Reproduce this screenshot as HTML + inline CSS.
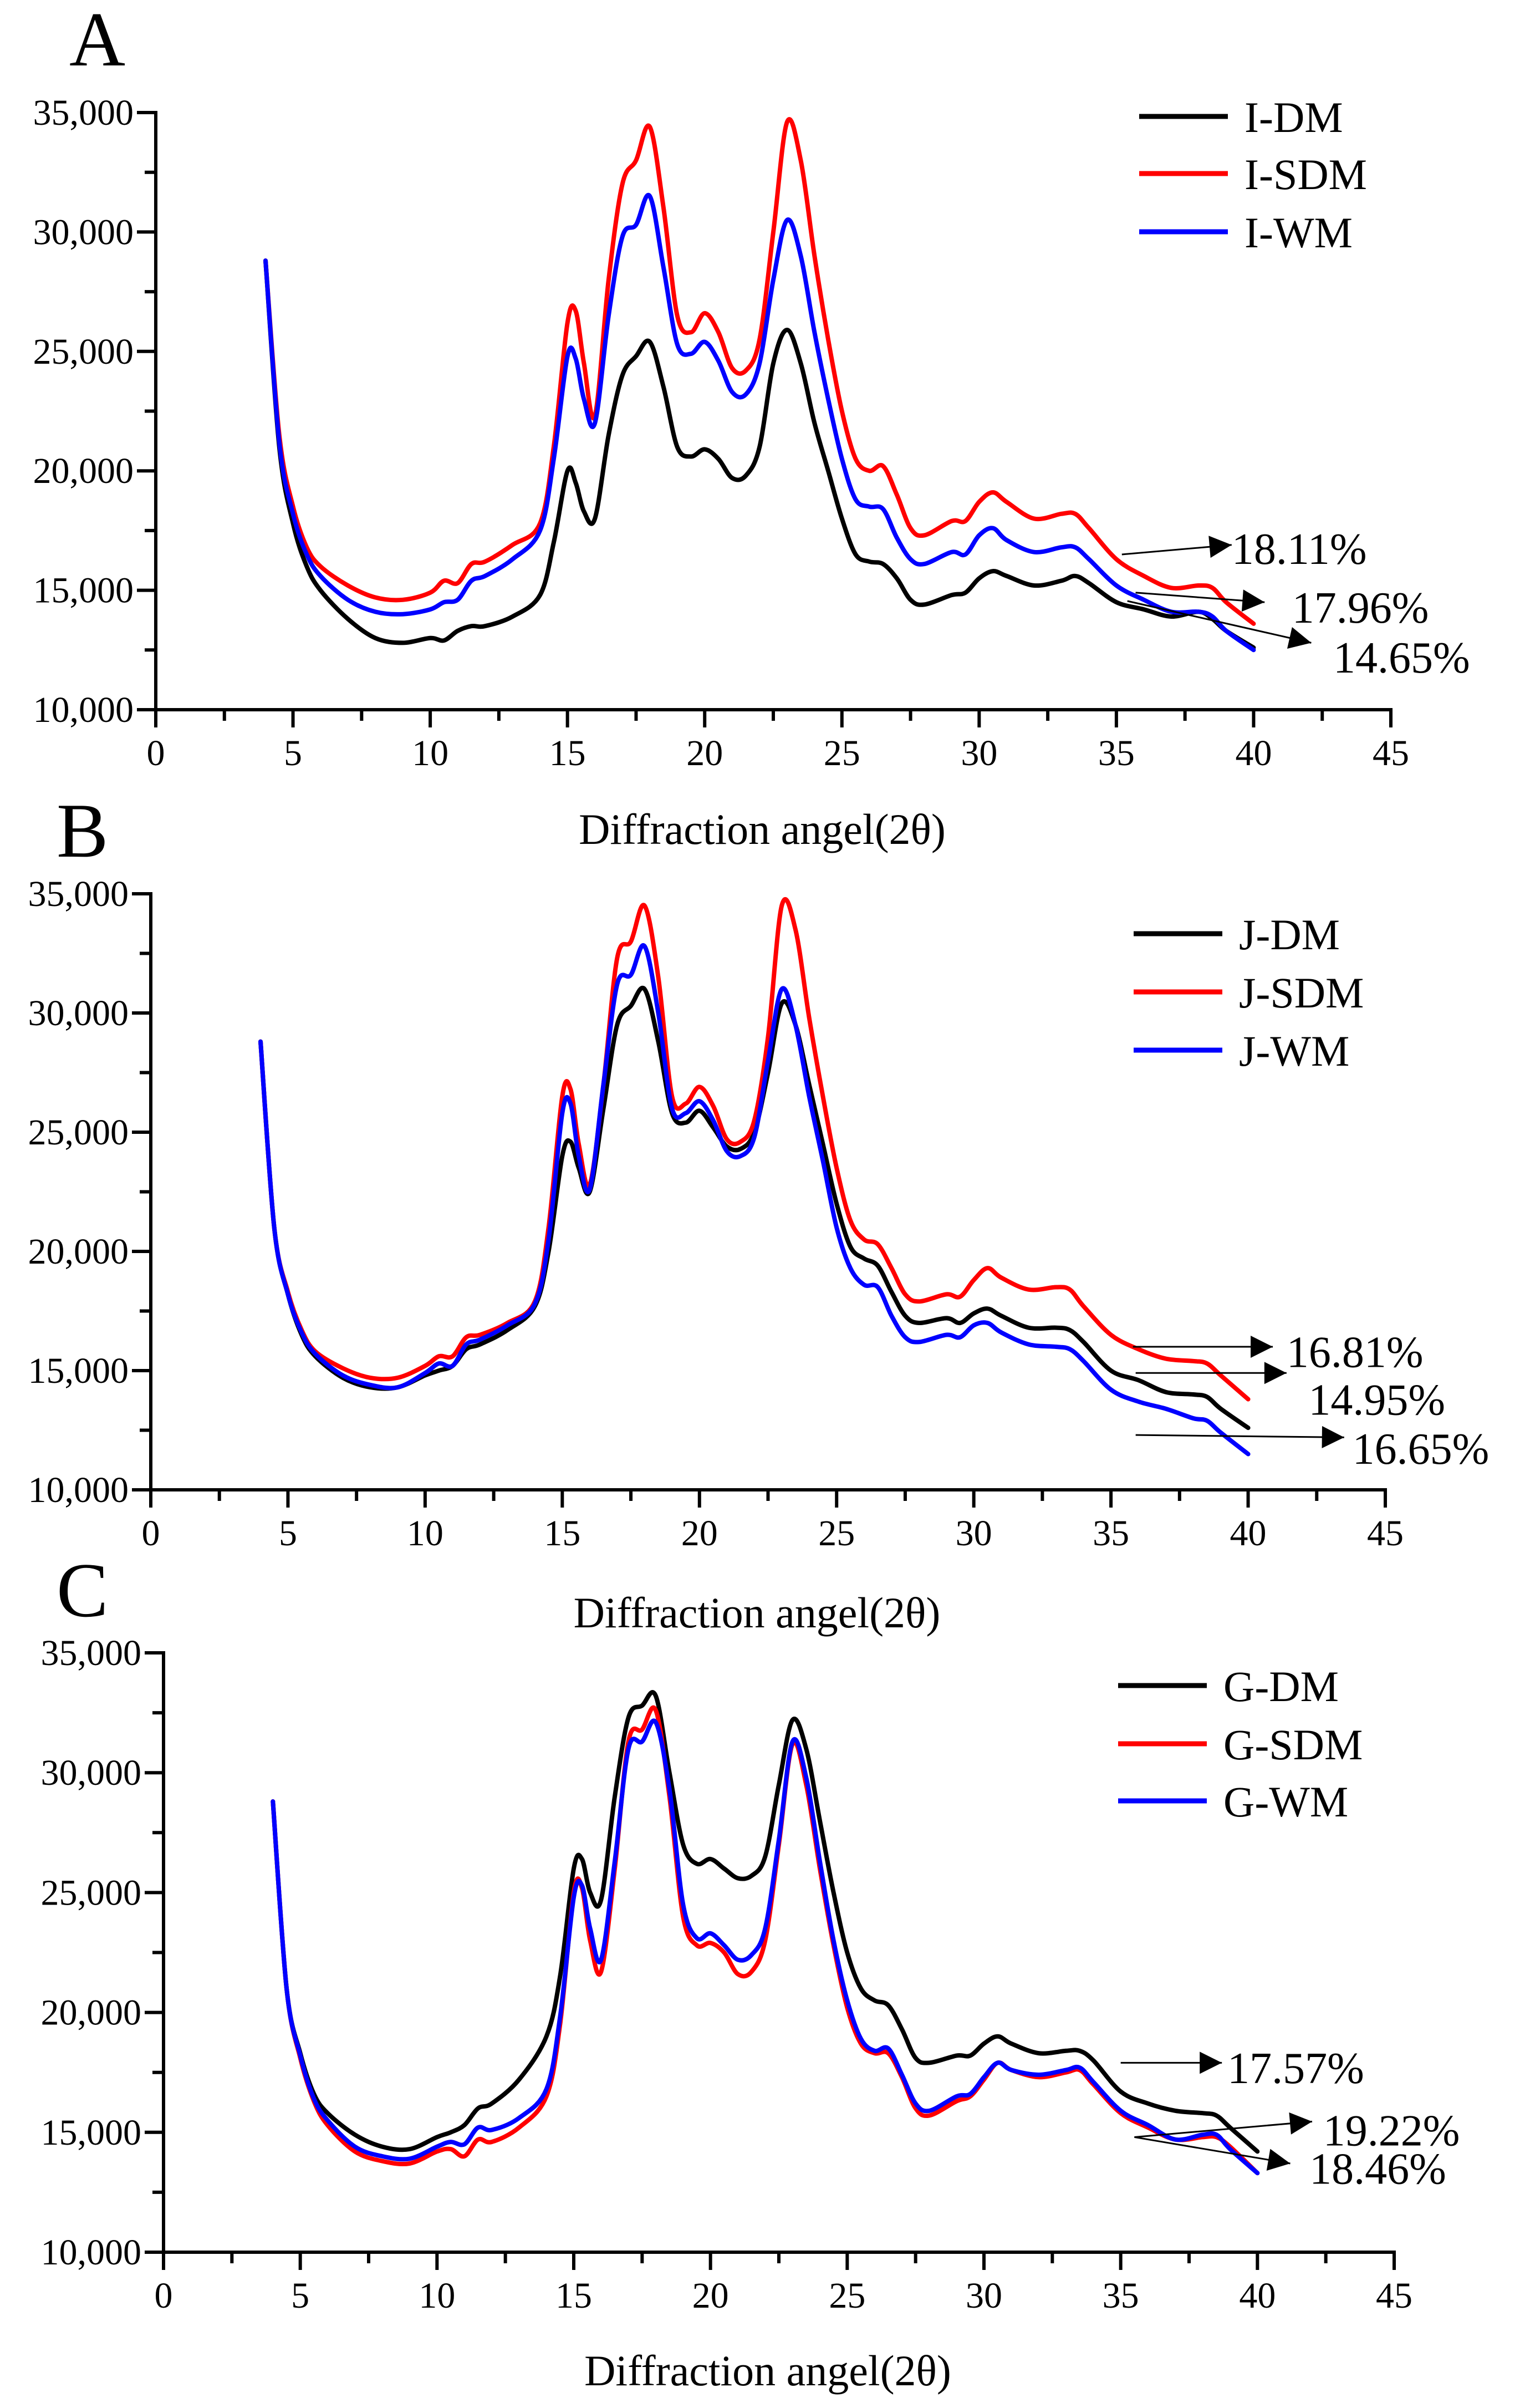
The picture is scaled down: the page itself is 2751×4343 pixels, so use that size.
<!DOCTYPE html>
<html><head><meta charset="utf-8"><style>
html,body{margin:0;padding:0;background:#fff}
svg{display:block}
text{font-family:"Liberation Serif",serif;fill:#000}
</style></head><body>
<svg id="fig" width="2751" height="4343" viewBox="0 0 2751 4343" xmlns="http://www.w3.org/2000/svg"></svg>
<script>
const angles=[4,4.5,5,5.5,6,7,8,9,10,10.5,11,11.5,12,13,14,14.5,15,15.3,15.6,16,16.5,17,17.5,18,18.5,19,19.5,20,20.5,21,21.5,22,22.5,23,23.5,24,24.5,25,25.5,26,26.5,27,27.5,28,29,29.5,30,30.5,31,32,33,33.5,34,35,36,37,38,38.5,39,40];
const xTicks=[0,5,10,15,20,25,30,35,40,45];
const yTicks=[10000,15000,20000,25000,30000,35000];
const yTickLabels=["10,000","15,000","20,000","25,000","30,000","35,000"];
// intensities in thousands
const iDM=[28.8,21,17.8,16,15,13.8,13,12.8,13,12.9,13.3,13.5,13.5,13.9,14.8,17,20,19.5,18.3,18,21.5,24,24.8,25.4,23.5,21,20.6,20.9,20.5,19.7,19.8,21,24.5,25.9,24.5,22,20,18,16.5,16.2,16.1,15.5,14.6,14.4,14.8,14.9,15.5,15.8,15.6,15.2,15.4,15.6,15.3,14.5,14.2,13.9,14.1,13.8,13.3,12.6];
const iSDM=[28.8,21.5,18.5,16.8,16,15.2,14.7,14.6,14.9,15.4,15.3,16.1,16.2,16.9,17.8,21,26.2,26.7,24.5,22.3,28,32,33,34.4,31,26.5,25.8,26.6,25.8,24.3,24.2,25.5,30,34.6,33,29,25.5,22.5,20.5,20,20.2,19,17.6,17.3,17.9,17.9,18.7,19.1,18.7,18,18.2,18.2,17.6,16.3,15.6,15.1,15.2,15.1,14.5,13.6];
const iWM=[28.8,21.2,18.2,16.5,15.6,14.6,14.1,14,14.2,14.5,14.6,15.4,15.6,16.3,17.5,20.5,24.8,24.7,23,22,26.5,29.8,30.3,31.5,28.5,25.3,24.9,25.4,24.6,23.3,23.2,24.5,28,30.5,29,25.8,23,20.5,18.8,18.5,18.4,17.2,16.3,16.1,16.6,16.5,17.3,17.6,17.1,16.6,16.8,16.8,16.3,15.2,14.6,14.1,14.1,13.9,13.3,12.5];
const jDM=[28.8,21,18.2,16.5,15.6,14.7,14.3,14.3,14.8,15,15.2,15.9,16.1,16.7,17.7,20,24,24.6,23.5,22.5,26,29.5,30.3,31,28.8,25.8,25.4,25.9,25.2,24.4,24.3,25,27.5,30.4,29.5,27,24.5,22,20.2,19.7,19.4,18.3,17.3,17,17.2,17,17.4,17.6,17.3,16.8,16.8,16.7,16.2,15,14.6,14.1,14,13.9,13.4,12.6];
const jSDM=[28.8,21,18.3,16.7,15.8,15.1,14.7,14.7,15.2,15.6,15.6,16.4,16.5,17,17.9,21,26.5,26.8,24.5,22.8,27,32.3,33,34.5,31.5,26.5,26.2,26.9,26.1,24.7,24.6,25.5,29,34.5,33.5,29.8,26.5,23.5,21.3,20.5,20.3,19.3,18.2,17.9,18.2,18.1,18.8,19.3,18.9,18.4,18.5,18.4,17.7,16.5,15.9,15.5,15.4,15.3,14.8,13.8];
const jWM=[28.8,21,18.2,16.6,15.7,14.8,14.4,14.3,14.9,15.3,15.2,16.1,16.3,16.9,17.8,20.5,25.8,26.2,24,22.6,27,31.2,31.6,32.8,30,26,25.8,26.3,25.5,24.2,24,24.8,28,31,29.5,26.5,23.8,21,19.3,18.6,18.5,17.3,16.4,16.2,16.5,16.4,16.9,17,16.6,16.1,16,15.9,15.4,14.2,13.7,13.4,13,12.9,12.4,11.5];
const gDM=[28.8,21,18.3,16.6,15.8,14.9,14.4,14.3,14.8,15,15.3,16,16.2,17.2,19,21.5,26,26.4,25,24.7,29,32.3,32.8,33.2,30,27,26.2,26.4,26,25.6,25.7,26.5,29.5,32.2,31,28,25,22.5,21,20.5,20.3,19.3,18.1,17.9,18.2,18.2,18.7,19,18.7,18.3,18.4,18.4,18,16.7,16.2,15.9,15.8,15.7,15.2,14.2];
const gSDM=[28.8,21,18.1,16.3,15.3,14.2,13.8,13.7,14.2,14.3,14,14.7,14.6,15.2,16.5,19.5,25,25.2,23,21.7,26,31.3,31.8,32.6,29,24,22.8,22.9,22.5,21.6,21.7,23,27,31.2,29.5,26,22.8,20.2,18.7,18.3,18.3,17.3,16,15.7,16.3,16.5,17.2,17.9,17.6,17.3,17.5,17.6,17,15.8,15.2,14.7,14.8,14.8,14.4,13.3];
const gWM=[28.8,21,18.2,16.4,15.5,14.4,14,13.9,14.4,14.6,14.5,15.2,15.1,15.6,16.8,19.8,24.8,25.3,23.5,22.2,26.3,31,31.3,32.1,29.3,24.5,23.1,23.3,22.8,22.2,22.4,23.5,27.2,31.3,29.8,26.3,23,20.5,18.9,18.4,18.5,17.4,16.2,15.9,16.5,16.6,17.3,17.9,17.6,17.4,17.6,17.7,17.1,15.9,15.3,14.7,14.9,14.9,14.3,13.3];
const panels=[
 {id:"a",letter:"A",lx:125,ly:118,x0:281,x1:2509,yTop:203,yBot:1280,titleY:1522,legX:2055,legY:[210,313,418],
  names:["I-DM","I-SDM","I-WM"],data:[iDM,iSDM,iWM],
  ann:[{f:[35.2,16.5],t:[39.2,16.9],l:[39.2,16.75],s:"18.11%"},{f:[35.7,14.9],t:[40.4,14.5],l:[41.4,14.3],s:"17.96%"},{f:[35.4,14.55],t:[42.1,12.8],l:[42.9,12.2],s:"14.65%"}]},
 {id:"b",letter:"B",lx:102,ly:1545,x0:272,x1:2499,yTop:1612,yBot:2687,titleY:2935,legX:2045,legY:[1684,1789,1894],
  names:["J-DM","J-SDM","J-WM"],data:[jDM,jSDM,jWM],
  ann:[{f:[35.8,16.0],t:[40.9,16.0],l:[41.4,15.8],s:"16.81%"},{f:[35.9,14.9],t:[41.4,14.9],l:[42.2,13.8],s:"14.95%"},{f:[35.9,12.3],t:[43.5,12.2],l:[43.8,11.75],s:"16.65%"}]},
 {id:"c",letter:"C",lx:102,ly:2915,x0:295,x1:2515,yTop:2981,yBot:4062,titleY:4302,legX:2017,legY:[3040,3145,3248],
  names:["G-DM","G-SDM","G-WM"],data:[gDM,gSDM,gWM],
  ann:[{f:[35.0,17.9],t:[38.7,17.9],l:[38.9,17.7],s:"17.57%"},{f:[35.5,14.8],t:[42.0,15.45],l:[42.4,15.1],s:"19.22%"},{f:[35.5,14.8],t:[41.2,13.7],l:[41.9,13.5],s:"18.46%"}]}
];
const colors=["#000000","#ff0000","#0000ff"];
const NS="http://www.w3.org/2000/svg";
const svg=document.getElementById("fig");
function mk(tag,attrs,parent){const e=document.createElementNS(NS,tag);for(const k in attrs)e.setAttribute(k,attrs[k]);(parent||svg).appendChild(e);return e;}
const defs=mk("defs",{});
const mkr=mk("marker",{id:"arr",viewBox:"0 0 10 10",refX:"10",refY:"5",markerWidth:"50",markerHeight:"40",orient:"auto",markerUnits:"userSpaceOnUse"},defs);
mk("path",{d:"M0,0 L10,5 L0,10 z",fill:"#000"},mkr);
function smooth(pts){let d="M"+pts[0][0].toFixed(1)+","+pts[0][1].toFixed(1);
 for(let i=0;i<pts.length-1;i++){const p0=pts[i-1]||pts[i],p1=pts[i],p2=pts[i+1],p3=pts[i+2]||p2;
  const c1=[p1[0]+(p2[0]-p0[0])/6,p1[1]+(p2[1]-p0[1])/6],c2=[p2[0]-(p3[0]-p1[0])/6,p2[1]-(p3[1]-p1[1])/6];
  d+=" C"+c1[0].toFixed(1)+","+c1[1].toFixed(1)+" "+c2[0].toFixed(1)+","+c2[1].toFixed(1)+" "+p2[0].toFixed(1)+","+p2[1].toFixed(1);}
 return d;}
panels.forEach(p=>{
 const g=mk("g",{});
 
 
 const X=v=>p.x0+(v/45)*(p.x1-p.x0);
 const Y=v=>p.yBot-((v-10000)/25000)*(p.yBot-p.yTop);
 const lt=mk("text",{x:p.lx,y:p.ly,"font-size":"140","text-anchor":"start"},g);lt.textContent=p.letter;
 
 
 const ax=mk("g",{stroke:"#000","stroke-width":"6",fill:"none"},g);
 
 
 mk("line",{x1:p.x0,y1:p.yTop-3,x2:p.x0,y2:p.yBot},ax);
 mk("line",{x1:p.x0-3,y1:p.yBot,x2:p.x1+3,y2:p.yBot},ax);
 for(let v=0;v<=45;v+=2.5){const maj=(v%5===0);mk("line",{x1:X(v),y1:p.yBot,x2:X(v),y2:p.yBot+(maj?32:20)},ax);}
 for(let v=10000;v<=35000;v+=2500){const maj=(v%5000===0);mk("line",{x1:p.x0,y1:Y(v),x2:p.x0-(maj?34:20),y2:Y(v)},ax);}
 xTicks.forEach(v=>{const t=mk("text",{x:X(v),y:p.yBot+100,"font-size":"66","text-anchor":"middle"},g);t.textContent=String(v);
  
  });
 yTicks.forEach((v,i)=>{const t=mk("text",{x:p.x0-40,y:Y(v)+22,"font-size":"66","text-anchor":"end"},g);t.textContent=yTickLabels[i];
  
  });
 const tt=mk("text",{x:(p.x0+p.x1)/2-20,y:p.titleY,"font-size":"78","text-anchor":"middle"},g);tt.textContent="Diffraction angel(2θ)";
 
 
 p.data.forEach((arr,si)=>{
  const pts=angles.map((a,i)=>[X(a),Y(arr[i]*1000)]);
  const path=mk("path",{d:smooth(pts),fill:"none",stroke:colors[si],"stroke-width":"8","stroke-linejoin":"round","stroke-linecap":"round"},g);
  
  
 });
 p.names.forEach((n,si)=>{
  const le=mk("g",{},g);
  
  
  mk("line",{x1:p.legX,y1:p.legY[si],x2:p.legX+160,y2:p.legY[si],stroke:colors[si],"stroke-width":"9"},le);
  const t=mk("text",{x:p.legX+190,y:p.legY[si]+28,"font-size":"78"},le);t.textContent=n;
 });
 p.ann.forEach(a=>{
  const an=mk("g",{},g);
  
  
  mk("line",{x1:X(a.f[0]),y1:Y(a.f[1]*1000),x2:X(a.t[0]),y2:Y(a.t[1]*1000),stroke:"#000","stroke-width":"3","marker-end":"url(#arr)"},an);
  const t=mk("text",{x:X(a.l[0]),y:Y(a.l[1]*1000)+28,"font-size":"80"},an);t.textContent=a.s;
 });
});
</script>
</body></html>
